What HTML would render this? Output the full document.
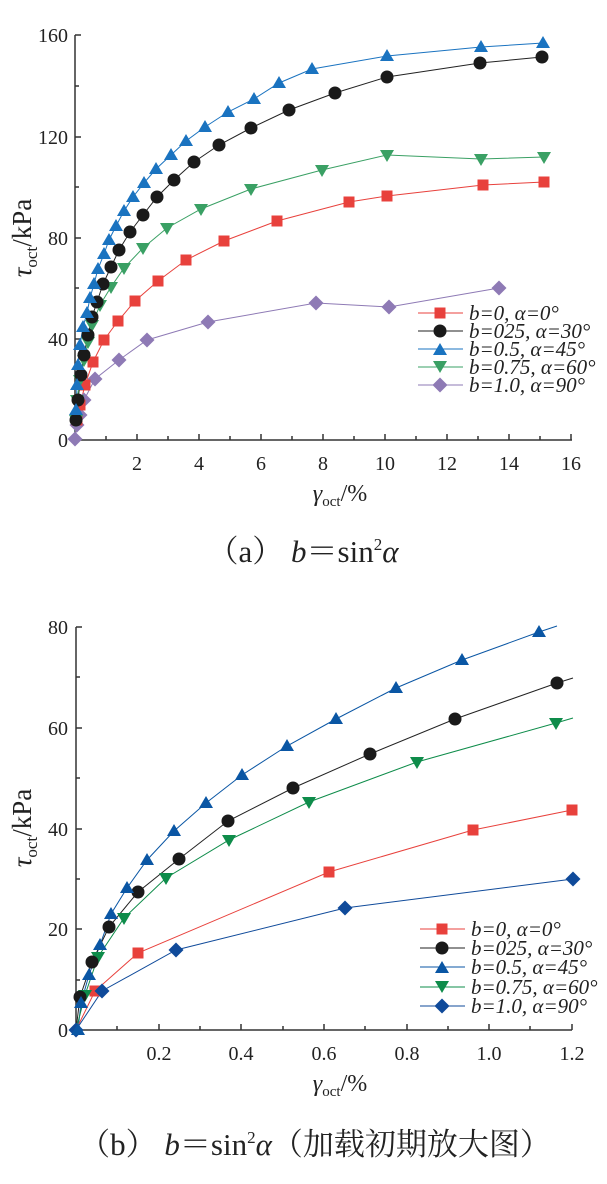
<!DOCTYPE html>
<html><head><meta charset="utf-8"><style>
body{margin:0;background:#fff}
svg{display:block}
text{font-family:"Liberation Serif","Noto Serif CJK SC",serif;fill:#222}
.t{font-size:20px}
.l{font-size:21px;font-style:italic}
</style></head><body>
<svg width="607" height="1184" viewBox="0 0 607 1184" xmlns="http://www.w3.org/2000/svg">
<defs>
<g id="sq"><rect x="-5.5" y="-5.5" width="11" height="11"/></g>
<g id="ci"><circle r="6.5"/></g>
<g id="tu"><polygon points="0,-7 7,5 -7,5"/></g>
<g id="td"><polygon points="0,7 7,-5 -7,-5"/></g>
<g id="di"><polygon points="0,-7.5 7.5,0 0,7.5 -7.5,0"/></g>
</defs>
<!-- Chart A axes -->
<g stroke="#333" stroke-width="1.5" fill="none">
<path d="M75,35 V440 H572"/>
<path d="M75,35 h6 M75,86 h4 M75,137 h6 M75,187 h4 M75,238 h6 M75,288 h4 M75,339 h6 M75,389 h4"/>
<path d="M106,440 v-4 M137,440 v-6 M168,440 v-4 M199,440 v-6 M230,440 v-4 M261,440 v-6 M292,440 v-4 M323,440 v-6 M354,440 v-4 M385,440 v-6 M416,440 v-4 M447,440 v-6 M478,440 v-4 M509,440 v-6 M540,440 v-4 M571,440 v-6"/>
</g>
<g class="t" text-anchor="end"><text x="68" y="42">160</text><text x="68" y="144">120</text><text x="68" y="245">80</text><text x="68" y="346">40</text><text x="68" y="447">0</text></g>
<g class="t" text-anchor="middle"><text x="137" y="470">2</text><text x="199" y="470">4</text><text x="261" y="470">6</text><text x="323" y="470">8</text><text x="385" y="470">10</text><text x="447" y="470">12</text><text x="509" y="470">14</text><text x="571" y="470">16</text></g>
<text transform="translate(31,238) rotate(-90)" text-anchor="middle" font-size="27"><tspan font-style="italic">τ</tspan><tspan font-size="17" dy="6">oct</tspan><tspan dy="-6">/kPa</tspan></text>
<text x="340" y="501" text-anchor="middle" font-size="24"><tspan font-style="italic">γ</tspan><tspan font-size="15" dy="5">oct</tspan><tspan dy="-5">/%</tspan></text>
<text x="303" y="562" text-anchor="middle" font-size="31">（a） <tspan font-style="italic">b</tspan>＝sin<tspan font-size="17" dy="-12">2</tspan><tspan dy="12" font-style="italic">α</tspan></text>

<!-- A series -->
<g fill="none" stroke-width="1">
<polyline stroke="#1a73c0" points="75,439 76,410 77,385 78,365 80,345 83,327 87,313 90,298 94,284 98,269 104,254 109,240 116,226 124,211 133,197 144,183 156,169 171,155 186,141 205,127 228,112 254,99 279,83 312,69 387,56 481,47 543,43"/>
<polyline stroke="#222" points="75,439 76,420 78,400 81,375 84,355 88,335 92,317 97,302 103,284 111,267 119,250 130,232 143,215 157,197 174,180 194,162 219,145 251,128 289,110 335,93 387,77 480,63 542,57"/>
<polyline stroke="#3aa064" points="75,439 76,420 77,400 80,380 84,360 88,342 92,325 100,305 111,287 124,268 143,248 167,228 201,209 251,189 322,170 387,155 481,159 544,157"/>
<polyline stroke="#e8413c" points="75,439 77,420 80,405 85,385 93,362 104,340 118,321 135,301 158,281 186,260 224,241 277,221 349,202 387,196 483,185 544,182"/>
<polyline stroke="#8e7ab5" points="75,439 77,425 80,415 84,400 95,379 119,360 147,340 208,322 316,303 389,307 499,288"/>
</g>
<g fill="#8e7ab5"><use href="#di" x="75" y="439"/><use href="#di" x="77" y="425"/><use href="#di" x="80" y="415"/><use href="#di" x="84" y="400"/><use href="#di" x="95" y="379"/><use href="#di" x="119" y="360"/><use href="#di" x="147" y="340"/><use href="#di" x="208" y="322"/><use href="#di" x="316" y="303"/><use href="#di" x="389" y="307"/><use href="#di" x="499" y="288"/></g>
<g fill="#e8413c"><use href="#sq" x="77" y="420"/><use href="#sq" x="80" y="405"/><use href="#sq" x="85" y="385"/><use href="#sq" x="93" y="362"/><use href="#sq" x="104" y="340"/><use href="#sq" x="118" y="321"/><use href="#sq" x="135" y="301"/><use href="#sq" x="158" y="281"/><use href="#sq" x="186" y="260"/><use href="#sq" x="224" y="241"/><use href="#sq" x="277" y="221"/><use href="#sq" x="349" y="202"/><use href="#sq" x="387" y="196"/><use href="#sq" x="483" y="185"/><use href="#sq" x="544" y="182"/></g>
<g fill="#3aa064"><use href="#td" x="76" y="420"/><use href="#td" x="77" y="400"/><use href="#td" x="80" y="380"/><use href="#td" x="84" y="360"/><use href="#td" x="88" y="342"/><use href="#td" x="92" y="325"/><use href="#td" x="100" y="305"/><use href="#td" x="111" y="287"/><use href="#td" x="124" y="268"/><use href="#td" x="143" y="248"/><use href="#td" x="167" y="228"/><use href="#td" x="201" y="209"/><use href="#td" x="251" y="189"/><use href="#td" x="322" y="170"/><use href="#td" x="387" y="155"/><use href="#td" x="481" y="159"/><use href="#td" x="544" y="157"/></g>
<g fill="#1a1a1a"><use href="#ci" x="76" y="420"/><use href="#ci" x="78" y="400"/><use href="#ci" x="81" y="375"/><use href="#ci" x="84" y="355"/><use href="#ci" x="88" y="335"/><use href="#ci" x="92" y="317"/><use href="#ci" x="97" y="302"/><use href="#ci" x="103" y="284"/><use href="#ci" x="111" y="267"/><use href="#ci" x="119" y="250"/><use href="#ci" x="130" y="232"/><use href="#ci" x="143" y="215"/><use href="#ci" x="157" y="197"/><use href="#ci" x="174" y="180"/><use href="#ci" x="194" y="162"/><use href="#ci" x="219" y="145"/><use href="#ci" x="251" y="128"/><use href="#ci" x="289" y="110"/><use href="#ci" x="335" y="93"/><use href="#ci" x="387" y="77"/><use href="#ci" x="480" y="63"/><use href="#ci" x="542" y="57"/></g>
<g fill="#1a73c0"><use href="#tu" x="76" y="410"/><use href="#tu" x="77" y="385"/><use href="#tu" x="78" y="365"/><use href="#tu" x="80" y="345"/><use href="#tu" x="83" y="327"/><use href="#tu" x="87" y="313"/><use href="#tu" x="90" y="298"/><use href="#tu" x="94" y="284"/><use href="#tu" x="98" y="269"/><use href="#tu" x="104" y="254"/><use href="#tu" x="109" y="240"/><use href="#tu" x="116" y="226"/><use href="#tu" x="124" y="211"/><use href="#tu" x="133" y="197"/><use href="#tu" x="144" y="183"/><use href="#tu" x="156" y="169"/><use href="#tu" x="171" y="155"/><use href="#tu" x="186" y="141"/><use href="#tu" x="205" y="127"/><use href="#tu" x="228" y="112"/><use href="#tu" x="254" y="99"/><use href="#tu" x="279" y="83"/><use href="#tu" x="312" y="69"/><use href="#tu" x="387" y="56"/><use href="#tu" x="481" y="47"/><use href="#tu" x="543" y="43"/></g>
<!-- Legend A -->
<g stroke-width="1"><line x1="418" y1="313" x2="463" y2="313" stroke="#e8413c"/><line x1="418" y1="331" x2="463" y2="331" stroke="#222"/><line x1="418" y1="349" x2="463" y2="349" stroke="#1a73c0"/><line x1="418" y1="367" x2="463" y2="367" stroke="#3aa064"/><line x1="418" y1="385" x2="463" y2="385" stroke="#8e7ab5"/></g>
<use href="#sq" x="440" y="313" fill="#e8413c"/><use href="#ci" x="440" y="331" fill="#1a1a1a"/><use href="#tu" x="440" y="350" fill="#1a73c0"/><use href="#td" x="440" y="366" fill="#3aa064"/><use href="#di" x="440" y="385" fill="#8e7ab5"/>
<g class="l"><text x="469" y="320">b=0, α=0°</text><text x="469" y="338">b=025, α=30°</text><text x="469" y="356">b=0.5, α=45°</text><text x="469" y="374">b=0.75, α=60°</text><text x="469" y="392">b=1.0, α=90°</text></g>

<!-- Chart B axes -->
<g stroke="#333" stroke-width="1.5" fill="none">
<path d="M76,627 V1030 H572"/>
<path d="M76,627 h6 M76,677 h4 M76,728 h6 M76,778 h4 M76,829 h6 M76,879 h4 M76,929 h6 M76,980 h4"/>
<path d="M117,1030 v-4 M159,1030 v-6 M200,1030 v-4 M241,1030 v-6 M283,1030 v-4 M324,1030 v-6 M365,1030 v-4 M407,1030 v-6 M448,1030 v-4 M489,1030 v-6 M530,1030 v-4 M572,1030 v-6"/>
</g>
<g class="t" text-anchor="end"><text x="68" y="634">80</text><text x="68" y="735">60</text><text x="68" y="836">40</text><text x="68" y="936">20</text><text x="68" y="1037">0</text></g>
<g class="t" text-anchor="middle"><text x="159" y="1060">0.2</text><text x="241" y="1060">0.4</text><text x="324" y="1060">0.6</text><text x="407" y="1060">0.8</text><text x="489" y="1060">1.0</text><text x="572" y="1060">1.2</text></g>
<text transform="translate(31,828) rotate(-90)" text-anchor="middle" font-size="27"><tspan font-style="italic">τ</tspan><tspan font-size="17" dy="6">oct</tspan><tspan dy="-6">/kPa</tspan></text>
<text x="340" y="1091" text-anchor="middle" font-size="24"><tspan font-style="italic">γ</tspan><tspan font-size="15" dy="5">oct</tspan><tspan dy="-5">/%</tspan></text>
<text x="315" y="1155" text-anchor="middle" font-size="31">（b） <tspan font-style="italic">b</tspan>＝sin<tspan font-size="17" dy="-12">2</tspan><tspan dy="12" font-style="italic">α</tspan>（加载初期放大图）</text>

<!-- B series -->
<g fill="none" stroke-width="1">
<polyline stroke="#0a56a4" points="76,1030 78,1030 81,1003 89,975 100,945 111,914 127,888 147,860 174,831 206,803 242,775 287,746 336,719 396,688 462,660 539,632 557,626"/>
<polyline stroke="#222" points="76,1030 80,997 92,962 109,927 138,892 179,859 228,821 293,788 370,754 455,719 557,683 573,678"/>
<polyline stroke="#0e8c4a" points="76,1030 85,995 98,957 124,918 166,878 229,840 309,802 417,762 556,723 573,718"/>
<polyline stroke="#e8413c" points="76,1030 95,991 138,953 329,872 473,830 572,810"/>
<polyline stroke="#0f4a9a" points="76,1030 102,991 176,950 345,908 573,879"/>
</g>
<g fill="#e8413c"><use href="#sq" x="95" y="991"/><use href="#sq" x="138" y="953"/><use href="#sq" x="329" y="872"/><use href="#sq" x="473" y="830"/><use href="#sq" x="572" y="810"/></g>
<g fill="#0f4a9a"><use href="#di" x="102" y="991"/><use href="#di" x="176" y="950"/><use href="#di" x="345" y="908"/><use href="#di" x="573" y="879"/><use href="#di" x="76" y="1030"/></g>
<g fill="#0e8c4a"><use href="#td" x="85" y="995"/><use href="#td" x="98" y="957"/><use href="#td" x="124" y="918"/><use href="#td" x="166" y="878"/><use href="#td" x="229" y="840"/><use href="#td" x="309" y="802"/><use href="#td" x="417" y="762"/><use href="#td" x="556" y="723"/></g>
<g fill="#1a1a1a"><use href="#ci" x="80" y="997"/><use href="#ci" x="92" y="962"/><use href="#ci" x="109" y="927"/><use href="#ci" x="138" y="892"/><use href="#ci" x="179" y="859"/><use href="#ci" x="228" y="821"/><use href="#ci" x="293" y="788"/><use href="#ci" x="370" y="754"/><use href="#ci" x="455" y="719"/><use href="#ci" x="557" y="683"/></g>
<g fill="#0a56a4"><use href="#tu" x="78" y="1030"/><use href="#tu" x="81" y="1003"/><use href="#tu" x="89" y="975"/><use href="#tu" x="100" y="945"/><use href="#tu" x="111" y="914"/><use href="#tu" x="127" y="888"/><use href="#tu" x="147" y="860"/><use href="#tu" x="174" y="831"/><use href="#tu" x="206" y="803"/><use href="#tu" x="242" y="775"/><use href="#tu" x="287" y="746"/><use href="#tu" x="336" y="719"/><use href="#tu" x="396" y="688"/><use href="#tu" x="462" y="660"/><use href="#tu" x="539" y="632"/></g>
<!-- Legend B -->
<g stroke-width="1"><line x1="420" y1="929" x2="465" y2="929" stroke="#e8413c"/><line x1="420" y1="948" x2="465" y2="948" stroke="#222"/><line x1="420" y1="967" x2="465" y2="967" stroke="#0a56a4"/><line x1="420" y1="987" x2="465" y2="987" stroke="#0e8c4a"/><line x1="420" y1="1006" x2="465" y2="1006" stroke="#0f4a9a"/></g>
<use href="#sq" x="442" y="929" fill="#e8413c"/><use href="#ci" x="442" y="948" fill="#1a1a1a"/><use href="#tu" x="442" y="968" fill="#0a56a4"/><use href="#td" x="442" y="986" fill="#0e8c4a"/><use href="#di" x="442" y="1006" fill="#0f4a9a"/>
<g class="l"><text x="471" y="936">b=0, α=0°</text><text x="471" y="955">b=025, α=30°</text><text x="471" y="974">b=0.5, α=45°</text><text x="471" y="994">b=0.75, α=60°</text><text x="471" y="1013">b=1.0, α=90°</text></g>
</svg>
</body></html>
